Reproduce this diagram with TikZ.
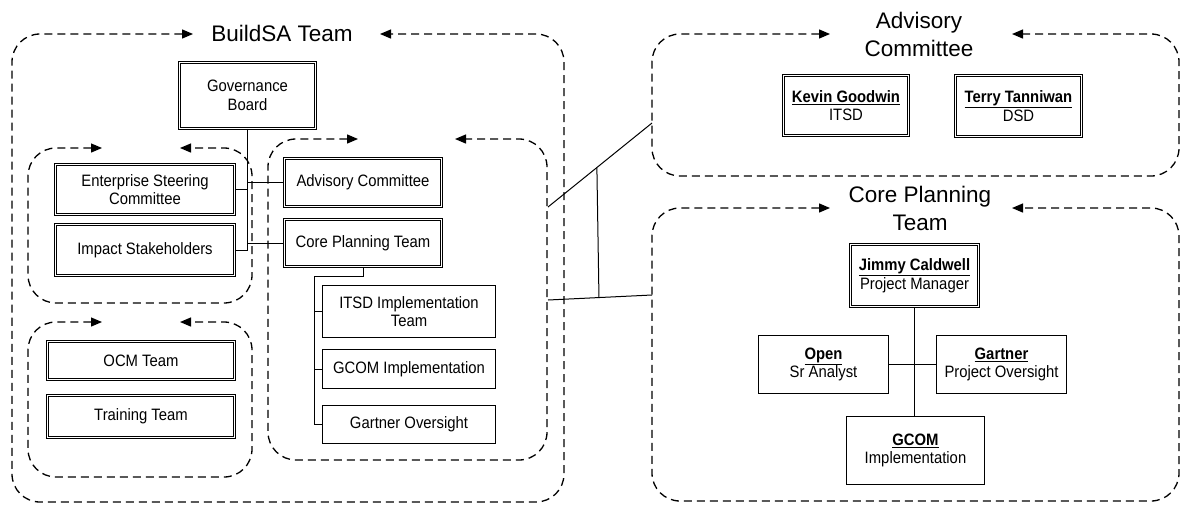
\documentclass[tikz,border=0pt]{standalone}
\usepackage{fontspec}
\setmainfont{Liberation Sans}
\newfontfamily\boxfam{Liberation Sans}[FakeStretch=0.9]
\usetikzlibrary{arrows.meta,calc}
\newcommand\boxfont{\boxfam\fontsize{16.5}{18.5}\selectfont}
\newcommand\grptitlefont{\fontsize{22.5}{28}\selectfont}
\begin{document}
\begin{tikzpicture}[x=1pt,y=-1pt,
  dbox/.style={draw, double, line width=0.9pt, double distance=1.4pt, inner sep=0pt, align=center, font=\boxfont},
  sbox/.style={draw, line width=1pt, inner sep=0pt, align=center, font=\boxfont},
  conn/.style={line width=1pt},
  grp/.style={line width=1.3pt, dash pattern=on 8pt off 5pt, rounded corners=28pt,
    {Triangle[length=11pt,width=9pt]}-{Triangle[length=11pt,width=9pt]}},
  gtitle/.style={font=\grptitlefont, align=center, inner sep=0pt}]
\useasboundingbox (0,0) rectangle (1180,504);

% ---- group containers ----
\draw[grp] (193,34) -- (12,34) -- (12,502) -- (564,502) -- (564,34) -- (380,34);
\draw[grp] (102,148) -- (28,148) -- (28,303) -- (252,303) -- (252,148) -- (180,148);
\draw[grp] (102,322) -- (28,322) -- (28,477) -- (252,477) -- (252,322) -- (180,322);
\draw[grp] (358,139) -- (268,139) -- (268,460) -- (547,460) -- (547,139) -- (455,139);
\draw[grp] (830,34) -- (652,34) -- (652,176) -- (1179,176) -- (1179,34) -- (1012,34);
\draw[grp] (830,208) -- (652,208) -- (652,501) -- (1179,501) -- (1179,208) -- (1012,208);

% ---- titles ----
\node[gtitle] (tB) at (282,33) {BuildSA Team};
\node[gtitle] (tA) at (919,34) {Advisory\\Committee};
\node[gtitle] (tC) at (920,208.5) {Core Planning\\Team};

% ---- left boxes ----
\node[dbox, minimum width=135.8pt, minimum height=65.8pt] (GB) at (247.5,95.5) {Governance\\Board};
\node[dbox, minimum width=178.8pt, minimum height=49.8pt] (ESC) at (145,189.5) {Enterprise Steering\\Committee};
\node[dbox, minimum width=178.8pt, minimum height=50.8pt] (IS) at (145,250) {Impact Stakeholders};
\node[dbox, minimum width=186.8pt, minimum height=37.8pt] (OCM) at (141,360.5) {OCM Team};
\node[dbox, minimum width=186.8pt, minimum height=41.8pt] (TT) at (141,416.5) {Training Team};
\node[dbox, minimum width=156.8pt, minimum height=47.8pt] (AC) at (363,182.5) {Advisory Committee};
\node[dbox, minimum width=156.8pt, minimum height=46.8pt] (CPT) at (363,243) {Core Planning Team};
\node[sbox, minimum width=173pt, minimum height=52pt] (ITSD) at (409,311.5) {ITSD Implementation\\Team};
\node[sbox, minimum width=173pt, minimum height=39pt] (GCI) at (409,369) {GCOM Implementation};
\node[sbox, minimum width=173pt, minimum height=38pt] (GO) at (409,424.5) {Gartner Oversight};

% ---- right boxes ----
\node[dbox, minimum width=124.8pt, minimum height=59.8pt] (KG) at (846,105.5) {\underline{\textbf{Kevin Goodwin}}\\ITSD};
\node[dbox, minimum width=125.8pt, minimum height=60.8pt] (TTa) at (1018.5,106) {\underline{\textbf{Terry Tanniwan}}\\DSD};
\node[dbox, minimum width=127.8pt, minimum height=61.8pt] (JC) at (914.5,275.5) {\underline{\textbf{Jimmy Caldwell}}\\Project Manager};
\node[sbox, minimum width=130pt, minimum height=58pt] (OP) at (823.5,364.5) {\underline{\textbf{Open}}\\Sr Analyst};
\node[sbox, minimum width=130pt, minimum height=58pt] (GA) at (1001.5,364.5) {\underline{\textbf{Gartner}}\\Project Oversight};
\node[sbox, minimum width=138pt, minimum height=68pt] (GC) at (915.5,450.5) {\underline{\textbf{GCOM}}\\Implementation};

% ---- left connectors ----
\draw[conn] (GB.south) -- (GB.south |- IS.east);
\draw[conn] (ESC.east) -- (ESC.east -| GB.south);
\draw[conn] (IS.east) -- (IS.east -| GB.south);
\draw[conn] (GB.south |- AC.west) -- (AC.west);
\draw[conn] (GB.south |- CPT.west) -- (CPT.west);
\coordinate (sp) at (314,276);
\draw[conn] (CPT.south) |- (sp) -- (sp |- GO.west) -- (GO.west);
\draw[conn] (sp |- ITSD.west) -- (ITSD.west);
\draw[conn] (sp |- GCI.west) -- (GCI.west);

% ---- links to right groups ----
\coordinate (cA) at (548,207);
\coordinate (aA) at (652,123);
\coordinate (cB) at (548,300);
\coordinate (aB) at (652,295);
\draw[conn] (cA) -- (aA);
\draw[conn] (cB) -- (aB);
\draw[conn] ($(cA)!0.47!(aA)$) -- ($(cB)!0.49!(aB)$);

% ---- right connectors ----
\draw[conn] (JC.south) -- (JC.south |- GC.north);
\draw[conn] (OP.east) -- (GA.west);
\end{tikzpicture}
\end{document}
